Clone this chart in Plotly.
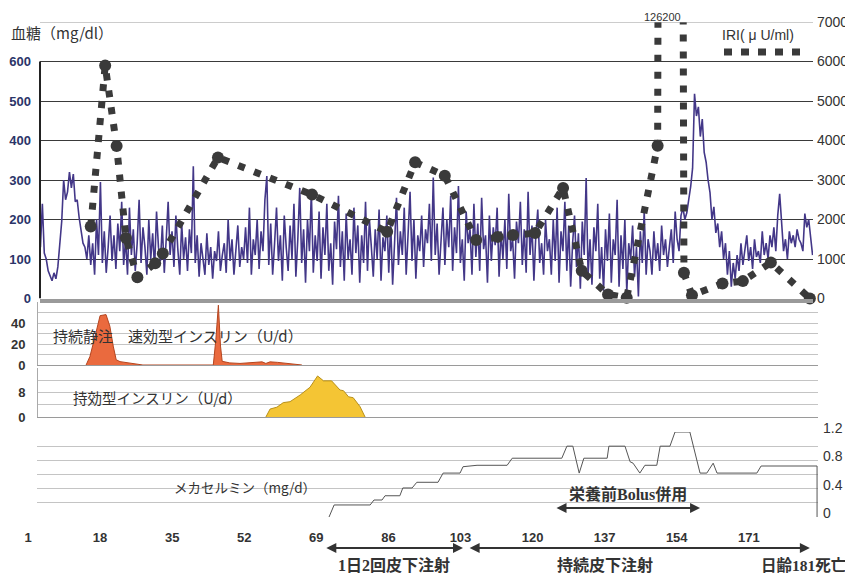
import numpy as np
import plotly.graph_objects as go

# The page body has an 8px margin, so the figure is drawn 8px in from the
# top-left corner; layout helpers below work in reference-picture pixels.
OFF = 8
W, H = 853 - OFF, 574 - OFF
PX0, PXD = 28.0, 4.24  # pixel of day 1, pixels per day (layout calibration)


def day(px):
    return 1 + (px - PX0) / PXD


def ypap(py):
    return 1 - (py - OFF) / H


def xpap(px):
    return (px - OFF) / W


# ---------------- data ----------------
glucose = [
    130, 240, 115, 100, 70, 55, 45, 65, 50, 80, 150, 195, 300, 250, 270, 320, 280, 315, 245, 250, 205, 170, 140,
    130, 100, 160, 85, 140, 60, 200, 110, 295, 90, 170, 65, 130, 210, 95, 160, 75, 190, 120, 245,
    85, 150, 60, 230, 110, 175, 70, 140, 250, 90, 180, 130, 60, 200, 100, 165, 75, 220, 130, 95,
    185, 65, 150, 245, 110, 170, 80, 210, 125, 60, 190, 100, 155, 70, 175, 115, 335, 90, 160, 55,
    140, 100, 60, 165, 85, 130, 50, 120, 95, 170, 70, 110, 140, 65, 200, 95, 150, 60, 120, 185, 80, 130, 100,
    180, 90, 230, 60, 150, 110, 200, 75, 170, 120, 250, 310, 85, 190, 60, 140, 230, 95, 160, 45,
    210, 130, 70, 185, 100, 240, 55, 150, 280, 90, 175, 40, 200, 120, 270, 65, 160, 95, 220, 50,
    180, 110, 240, 70, 140, 35, 195, 125, 260, 80, 170, 45, 215, 100, 150, 60, 230, 115, 185, 40,
    160, 90, 245, 70, 200, 130, 55, 175, 100, 225, 45, 155, 120, 210, 65, 190, 35, 140, 255, 85,
    170, 110, 230, 60, 150, 270, 95, 200, 50, 160,
    120, 210, 80, 175, 140, 240, 95, 306, 110, 190, 60, 160, 230, 85, 200, 130, 260, 70, 180, 115,
    285, 90, 150, 45, 220, 140, 175, 60, 240, 105, 190, 70, 255, 125, 160, 40, 210, 95, 180, 135,
    230, 55, 170, 100, 200, 75, 265, 120, 150, 50, 195, 140, 245, 85, 175, 65, 270, 110, 185, 45,
    160, 225, 90, 140, 60, 200, 120,
    150, 60, 200, 95, 230, 40, 170, 120, 245, 70, 185, 30, 140, 210, 80, 165, 25, 195, 110, 305,
    60, 150, 35, 180, 120, 240, 50, 130, 20, 175, 95, 215, 40, 150, 110, 250, 30, 160, 75, 200,
    15, 140, 100, 185, 55, 130, 5, 170, 90, 220, 60, 150,
    120, 60, 170, 95, 140, 70, 185, 110, 150, 80, 130, 175, 90, 220, 150, 120, 210, 230, 200,
    217, 250, 283, 330, 518, 462, 485, 410, 454, 370, 345, 300, 268, 200, 232, 166,
    190, 130, 170, 100, 140, 60, 120, 30, 90, 50, 110, 70, 140, 85, 120, 160, 95, 130, 75, 150,
    105, 120, 90, 170, 110, 140, 100, 160, 130, 180, 120, 210, 265,
    180, 120, 150, 100, 170, 140, 160, 130, 175, 150, 140, 120, 215, 180, 200, 150, 110,
]

iri_day = [15.8, 19.2, 21.9, 24.1, 26.8, 31.0, 32.8, 45.8, 68.0, 85.7, 92.3, 99.3, 106.7, 111.8,
           115.4, 120.6, 127.2, 131.6, 137.8, 142.2, 149.5, 152.4, 155.7, 157.6, 164.8, 169.6,
           176.2, 185.4]
iri_val = [1820, 5900, 3860, 1530, 540, 890, 1140, 3570, 2630, 1690, 3450, 3110, 1480, 1560,
           1610, 1660, 2800, 700, 100, 20, 3865, 126200, 650, 80, 380, 440, 910, 0]

rapid_day = [14.7, 15.6, 16.8, 18.0, 19.4, 20.3, 21.1, 21.8, 22.7, 24.4, 25.8, 28.1,
             44.7, 45.3, 45.9, 46.4, 46.8, 48.6, 51.0, 53.4, 55.2, 56.2, 57.1, 58.1, 59.9,
             62.3, 64.2, 65.6]
rapid_val = [0, 8, 27, 47, 48, 37, 18, 5, 3.2, 2.2, 1, 0,
             0, 24, 57, 18, 3.5, 2, 1.5, 2, 3, 3, 1.5, 3, 2.5, 1.5, 0.5, 0]

long_day = [57.1, 58.1, 59.7, 61.2, 62.8, 65.2, 67.5, 69.3, 70.7, 72.6, 74.6, 75.4, 76.6,
            77.7, 79.3, 80.5]
long_val = [0, 2.6, 3.2, 4.7, 5.0, 7.2, 9.7, 13.4, 11.8, 11.8, 8.8, 8.6, 6.6, 6.3, 3.4, 0]

meca_day = [72.0, 73.2, 81.7, 82.6, 84.5, 85.2, 88.7, 89.4, 91.6, 92.7, 97.7, 98.9, 102.9,
            103.6, 106.9, 114.0, 115.2, 126.9, 128.1, 129.5, 131.0, 132.1, 137.6, 138.0,
            141.8, 143.0, 143.7, 145.3, 146.5, 149.3, 150.1, 152.4, 153.6, 157.1, 159.5,
            161.1, 162.6, 163.5, 172.9, 173.9, 187.1, 187.1]
meca_val = [0, 0.17, 0.17, 0.24, 0.24, 0.30, 0.30, 0.41, 0.41, 0.49, 0.49, 0.62, 0.62,
            0.71, 0.73, 0.73, 0.83, 0.83, 1.0, 1.0, 0.62, 0.83, 0.83, 1.0,
            1.0, 0.78, 0.76, 0.62, 0.73, 0.73, 1.0, 1.0, 1.2, 1.2, 0.62,
            0.62, 0.76, 0.62, 0.62, 0.72, 0.72, 0]

tick_days = [1, 18, 35, 52, 69, 86, 103, 120, 137, 154, 171]
bid_period = [71.0, 103.6]
csii_period = [104.8, 185.4]
bolus_period = [125.3, 159.5]

glucose_day = np.linspace(day(40) + 0.1, day(813) - 0.1, len(glucose))

# ---------------- styles ----------------
NUM = "Arial, Liberation Sans, sans-serif"
JP = "Noto Sans CJK JP, sans-serif"
SERIF_JP = "Liberation Serif, Noto Sans CJK JP, serif"
IRI_C = "#3a3a3a"

fig = go.Figure()

fig.add_trace(go.Scatter(x=glucose_day, y=glucose, mode="lines",
                         line=dict(color="#433788", width=1.6),
                         xaxis="x", yaxis="y", hoverinfo="skip"))
fig.add_trace(go.Scatter(x=iri_day, y=iri_val, mode="lines+markers",
                         line=dict(color=IRI_C, width=7, dash="7px,10px"),
                         marker=dict(size=12, color=IRI_C),
                         cliponaxis=False, xaxis="x", yaxis="y2"))
fig.add_trace(go.Scatter(x=rapid_day, y=rapid_val, mode="lines", fill="tozeroy",
                         fillcolor="#EA6A3E", line=dict(color="#B4441E", width=1),
                         xaxis="x2", yaxis="y3"))
fig.add_trace(go.Scatter(x=long_day, y=long_val, mode="lines", fill="tozeroy",
                         fillcolor="#F4C534", line=dict(color="#B8901A", width=1),
                         xaxis="x3", yaxis="y4"))
fig.add_trace(go.Scatter(x=meca_day, y=meca_val, mode="lines",
                         line=dict(color="#555555", width=1),
                         xaxis="x4", yaxis="y5"))
fig.add_trace(go.Scatter(x=tick_days, y=[0] * len(tick_days), mode="markers",
                         marker=dict(opacity=0), hoverinfo="skip",
                         xaxis="x5", yaxis="y6"))

grid_small = "#c4c4c4"

fig.update_layout(
    width=W, height=H, autosize=False,
    margin=dict(l=0, r=0, t=0, b=0, pad=0, autoexpand=False),
    paper_bgcolor="white", plot_bgcolor="rgba(0,0,0,0)",
    showlegend=False,
    xaxis=dict(domain=[xpap(40), xpap(813)], range=[day(40), day(813)], anchor="y",
               showticklabels=False, showgrid=False, zeroline=False, ticks="",
               showline=True, linecolor="#9a9a9a", linewidth=4, automargin=False),
    yaxis=dict(domain=[ypap(298.5), ypap(22)], range=[0, 700], anchor="x",
               tickvals=[0, 100, 200, 300, 400, 500, 600],
               showgrid=True, gridcolor="#3a3a3a", gridwidth=1.4, zeroline=False,
               ticks="", ticklabelstandoff=8, automargin=False,
               tickfont=dict(family=NUM, size=13, color="#2b3468", weight="bold")),
    yaxis2=dict(overlaying="y", side="right", range=[0, 7000], anchor="x",
                tickvals=[0, 1000, 2000, 3000, 4000, 5000, 6000, 7000],
                showgrid=False, zeroline=False, ticks="", ticklabelstandoff=3,
                automargin=False,
                tickfont=dict(family=NUM, size=14, color="#333333")),
    xaxis2=dict(domain=[xpap(38), xpap(818)], range=[day(38), day(818)], anchor="y3",
                showticklabels=False, showgrid=False, zeroline=False, ticks="",
                showline=True, linecolor="#9a9a9a", linewidth=1, automargin=False),
    yaxis3=dict(domain=[ypap(365), ypap(302)], range=[0, 60], anchor="x2",
                tickvals=[0, 10, 20, 30, 40, 50, 60],
                ticktext=["0", "", "20", "", "40", "", ""],
                showgrid=True, gridcolor=grid_small, gridwidth=1, zeroline=False,
                showline=True, linecolor="#aaaaaa", linewidth=1,
                ticks="", ticklabelstandoff=9, automargin=False,
                tickfont=dict(family=NUM, size=13, color="#333333", weight="bold")),
    xaxis3=dict(domain=[xpap(38), xpap(818)], range=[day(38), day(818)], anchor="y4",
                showticklabels=False, showgrid=False, zeroline=False, ticks="",
                showline=True, linecolor="#9a9a9a", linewidth=1, automargin=False),
    yaxis4=dict(domain=[ypap(417), ypap(368)], range=[0, 16], anchor="x3",
                tickvals=[0, 4, 8, 12, 16], ticktext=["0", "", "8", "", ""],
                showgrid=True, gridcolor=grid_small, gridwidth=1, zeroline=False,
                showline=True, linecolor="#aaaaaa", linewidth=1,
                ticks="", ticklabelstandoff=9, automargin=False,
                tickfont=dict(family=NUM, size=13, color="#333333", weight="bold")),
    xaxis4=dict(domain=[xpap(37), xpap(818)], range=[day(37), day(818)], anchor="y5",
                showticklabels=False, showgrid=False, zeroline=False, ticks="",
                showline=False, automargin=False),
    yaxis5=dict(domain=[ypap(517), ypap(432)], range=[0, 1.2], anchor="x4", side="right",
                tickvals=[0, 0.2, 0.4, 0.6, 0.8, 1.0, 1.2],
                ticktext=["0", "", "0.4", "", "0.8", "", "1.2"],
                showgrid=True, gridcolor=grid_small, gridwidth=1, zeroline=False,
                showline=False, ticks="", ticklabelstandoff=4, ticklabelshift=-4,
                automargin=False,
                tickfont=dict(family=NUM, size=14, color="#333333")),
    xaxis5=dict(domain=[0, 1], range=[day(OFF), day(OFF + W)], anchor="y6",
                tickvals=tick_days, showline=False, showgrid=False, zeroline=False,
                ticks="", automargin=False,
                tickfont=dict(family="Liberation Sans Narrow, Arial Narrow, Liberation Sans",
                              size=13, color="#333333", weight="bold")),
    yaxis6=dict(domain=[ypap(528), ypap(527)], range=[0, 1], visible=False),
)

shapes = [
    dict(type="line", xref="x domain", yref="y", x0=0, x1=0, y0=0, y1=600,
         line=dict(color="#222222", width=2)),
    dict(type="line", xref="x domain", yref="y", x0=0, x1=1, y0=700, y1=700,
         line=dict(color="#9a9a9a", width=1)),
    dict(type="line", xref="paper", yref="paper", x0=xpap(724), x1=xpap(802),
         y0=ypap(52), y1=ypap(52), line=dict(color=IRI_C, width=7, dash="8px,9px")),
]
fig.update_layout(shapes=shapes)

peak_i = int(np.argmax(iri_val))
ann = [
    dict(text="血糖（mg/dl）", x=xpap(9), y=ypap(33), xref="paper", yref="paper",
         xanchor="left", yanchor="middle", showarrow=False,
         font=dict(family=JP, size=15, color="#333333")),
    dict(text="IRI( μ U/ml)", x=xpap(758), y=ypap(35), xref="paper", yref="paper",
         xanchor="center", yanchor="middle", showarrow=False,
         font=dict(family=NUM, size=14, color="#333333")),
    dict(text=str(iri_val[peak_i]), x=iri_day[peak_i], y=ypap(17), xref="x", yref="paper",
         xshift=-7, xanchor="center", yanchor="middle", showarrow=False,
         font=dict(family=NUM, size=11, color="#333333")),
    dict(text="持続静注　速効型インスリン（U/d）", x=xpap(51), y=ypap(335), xref="paper",
         yref="paper", xanchor="left", yanchor="middle", showarrow=False,
         font=dict(family=JP, size=15, color="#333333")),
    dict(text="持効型インスリン（U/d）", x=xpap(71), y=ypap(397), xref="paper",
         yref="paper", xanchor="left", yanchor="middle", showarrow=False,
         font=dict(family=JP, size=14.5, color="#333333")),
    dict(text="メカセルミン（mg/d）", x=xpap(172), y=ypap(487), xref="paper",
         yref="paper", xanchor="left", yanchor="middle", showarrow=False,
         font=dict(family=JP, size=13.5, color="#333333")),
    dict(text="<b>栄養前Bolus併用</b>", x=sum(bolus_period) / 2, y=ypap(494), xref="x5",
         yref="paper", xanchor="center", yanchor="middle", showarrow=False,
         font=dict(family=SERIF_JP, size=16, color="#333333")),
    dict(text="<b>1日2回皮下注射</b>", x=sum(bid_period) / 2, y=ypap(565), xref="x5",
         yref="paper", xanchor="center", yanchor="middle", showarrow=False,
         font=dict(family=SERIF_JP, size=16, color="#333333")),
    dict(text="<b>持続皮下注射</b>", x=137, y=ypap(565), xref="x5",
         yref="paper", xanchor="center", yanchor="middle", showarrow=False,
         font=dict(family=SERIF_JP, size=16, color="#333333")),
    dict(text="<b>日齢181死亡</b>", x=xpap(848), y=ypap(565), xref="paper",
         yref="paper", xanchor="right", yanchor="middle", showarrow=False,
         font=dict(family=SERIF_JP, size=15.5, color="#333333")),
]
for (a, b), py in [(bid_period, 548), (csii_period, 548), (bolus_period, 508)]:
    ann.append(dict(text="", x=b, y=ypap(py), xref="x5", yref="paper",
                    ax=a, ay=0, axref="x5", ayref="pixel",
                    showarrow=True, arrowhead=2, startarrowhead=2, arrowside="end+start",
                    arrowwidth=2, arrowsize=1, startarrowsize=1, arrowcolor="#333333",
                    standoff=0, startstandoff=0))
fig.update_layout(annotations=ann)

fig.write_html("out.html")
